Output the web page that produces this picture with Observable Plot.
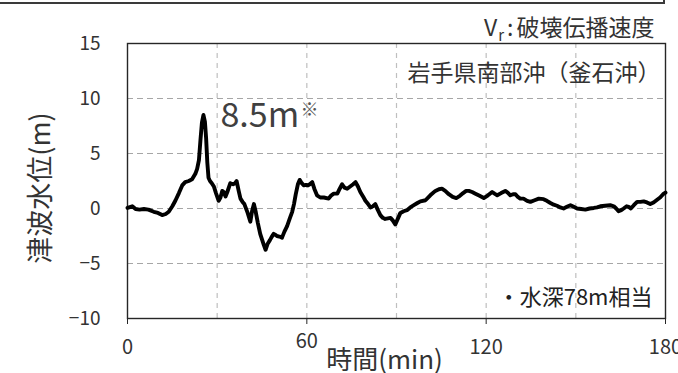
<!DOCTYPE html>
<html>
<head>
<meta charset="utf-8">
<script src="https://cdn.jsdelivr.net/npm/d3@7"></script>
<script src="https://cdn.jsdelivr.net/npm/@observablehq/plot@0.6"></script>
<style>
  html, body { margin: 0; padding: 0; background: white; }
  #wrap { position: relative; width: 678px; height: 373px; overflow: hidden; }
  #topbox { position: absolute; left: -4px; top: -10px; width: 667px; height: 12px;
            border-bottom: 2px solid #3a3a3a; border-right: 2px solid #3a3a3a; }
</style>
</head>
<body>
<div id="wrap"><div id="topbox"></div></div>
<script>
// time (min)
const times = [0,1.6,2.7,4,5.5,7,8.8,10.2,11.6,12.8,13.8,15,16,17.2,18.3,19.3,20.5,21.6,22.7,23.3,23.9,24.4,24.9,25.4,25.9,26.3,26.7,27.1,27.6,28.2,28.9,29.6,30.5,31.1,31.7,32.2,32.8,33.4,34.4,35.3,36.0,36.5,37.2,37.8,38.5,39.1,40.2,41.1,41.7,42.3,42.9,43.6,44.4,45.0,45.6,46.2,46.9,47.6,48.2,48.9,49.5,50.0,50.8,51.7,52.5,53.4,54.3,55.1,55.7,56.3,57.0,57.6,58.3,59.0,59.7,60.3,61.0,61.8,62.5,63.4,64.5,65.7,67.3,68.2,69.0,70.2,71.0,71.8,72.6,73.5,74.5,75.5,76.3,77.1,77.9,78.8,79.6,80.5,81.3,82.1,82.9,83.7,84.6,85.4,86.2,87.1,88.0,88.8,89.6,90.5,91.3,92.4,93.5,94.6,95.8,97.0,98.0,99.7,101.3,103.0,104.2,105.2,106.3,107.5,108.8,110.0,111.2,112.3,113.3,114.2,115.3,116.4,117.8,119.2,120.6,122.0,122.8,123.7,125.0,126.4,127.2,128.1,129.0,129.8,130.6,131.4,132.5,133.7,134.8,136.2,137.6,139.2,140.3,141.5,142.6,143.7,144.8,145.9,147.0,148.2,149.3,150.4,151.8,153.2,154.6,156.0,157.1,158.2,159.8,161.5,162.7,163.5,164.3,165.2,166.0,167.0,167.7,168.4,169.4,170.5,171.6,172.7,173.8,174.9,176.0,177.2,178.2,179.2,180];
// tsunami water level (m)
const levels = [0.05,0.2,-0.05,-0.1,-0.05,-0.1,-0.3,-0.4,-0.6,-0.5,-0.3,0.2,0.7,1.4,2.1,2.4,2.5,2.65,3.15,3.6,4.4,6.2,7.8,8.5,7.9,6.4,4.2,2.8,2.5,2.3,2.0,1.4,0.7,1.0,1.6,1.5,1.1,1.5,2.3,2.2,2.3,2.5,1.6,0.9,0.6,0.4,-0.4,-1.2,-0.2,0.4,-0.3,-1.3,-2.3,-2.8,-3.3,-3.75,-3.2,-2.9,-2.6,-2.3,-2.4,-2.5,-2.55,-2.65,-2.1,-1.6,-0.9,-0.3,0.4,1.3,2.2,2.6,2.3,2.1,2.15,2.1,2.2,2.4,1.8,1.2,1.0,1.0,0.9,1.2,1.35,1.35,1.8,2.2,1.9,1.8,2.0,2.2,2.4,2.0,1.5,1.1,0.7,0.4,0.1,0.2,0.4,-0.1,-0.6,-0.85,-0.95,-0.9,-0.85,-1.1,-1.45,-0.9,-0.4,-0.25,-0.15,0.1,0.3,0.5,0.65,0.75,1.2,1.6,1.75,1.8,1.6,1.3,1.05,0.95,1.15,1.4,1.6,1.6,1.5,1.35,1.15,0.95,1.2,1.5,1.35,1.2,1.4,1.6,1.45,1.2,1.3,1.3,1.05,0.9,0.9,0.7,0.6,0.75,0.9,0.85,0.7,0.5,0.35,0.25,0.1,0.0,0.15,0.3,0.15,0.0,-0.05,-0.1,0.0,0.05,0.1,0.2,0.25,0.3,0.2,0.0,-0.25,-0.15,0.0,0.2,0.15,0.0,0.3,0.6,0.6,0.65,0.55,0.4,0.55,0.8,1.0,1.3,1.45];
const xTicksMain = [0, 120, 180];
const xTicksRaised = [60];
const yTicks = [-10, -5, 0, 5, 10, 15];
const xGrid = [30, 60, 90, 120, 150];
const yGrid = [-5, 0, 5, 10];
const peakLabel = "8.5m";
const titleText = "岩手県南部沖（釜石沖）";
const noteText = "・水深78m相当";
const headerText = "Vr:破壊伝播速度";

const data = times.map((t, i) => ({t, v: levels[i]}));
const FONT = "'Noto Sans CJK JP', 'Noto Sans', sans-serif";

const chart = Plot.plot({
  width: 678,
  height: 373,
  marginLeft: 127,
  marginRight: 13,
  marginTop: 43,
  marginBottom: 55,
  style: {fontFamily: FONT, fontSize: "19px", color: "#333", background: "transparent"},
  x: {domain: [0, 180]},
  y: {domain: [-10, 15]},
  marks: [
    Plot.ruleY(yGrid, {stroke: "#a6a6a6", strokeWidth: 1.2, strokeDasharray: "6,4"}),
    Plot.ruleX(xGrid, {stroke: "#bfbfbf", strokeWidth: 1.2, strokeDasharray: "5,5"}),
    Plot.frame({stroke: "#262626", strokeWidth: 1.4}),
    Plot.line(data, {x: "t", y: "v", stroke: "black", strokeWidth: 3.9, strokeLinejoin: "round", strokeLinecap: "round"}),
    Plot.axisY(yTicks, {tickSize: 0, tickPadding: 27, fontSize: 19, label: null, fill: "#333"}),
    Plot.axisX(xTicksMain, {tickSize: 6, tickPadding: 15, fontSize: 20, label: null, fill: "#333", stroke: "#262626"}),
    Plot.axisX(xTicksRaised, {tickSize: 6, tickPadding: 9, fontSize: 20, label: null, fill: "#333", stroke: "#262626"}),
    Plot.text([titleText], {frameAnchor: "top-right", dx: -5, dy: 30, lineAnchor: "middle", fontSize: 23, fill: "#333"}),
    Plot.text([noteText], {frameAnchor: "bottom-right", dx: -13, dy: -21, lineAnchor: "middle", fontSize: 22, fill: "#222"}),
    Plot.text([headerText], {frameAnchor: "top-right", dx: -11, dy: -15, lineAnchor: "middle", fontSize: 23, fill: "#333"}),
    Plot.text([peakLabel], {frameAnchor: "top-left", dx: 93, dy: 73, lineAnchor: "middle", textAnchor: "start", fontSize: 34, fill: "#404040"}),
    Plot.text(["※"], {frameAnchor: "top-left", dx: 173, dy: 67, lineAnchor: "middle", textAnchor: "start", fontSize: 18, fill: "#555"}),
    Plot.text(["時間(min)"], {frameAnchor: "bottom", dx: -12, dy: 42, lineAnchor: "middle", fontSize: 26, fill: "#333"}),
    Plot.text(["津波水位(m)"], {frameAnchor: "left", dx: -86, dy: 7, rotate: -90, textAnchor: "middle", lineAnchor: "middle", fontSize: 27, fill: "#333"})
  ]
});

// subscript r in header
d3.select(chart).selectAll("text").filter(function() { return this.textContent === headerText; })
  .each(function() {
    const t = d3.select(this);
    t.text(null);
    t.append("tspan").text("V");
    t.append("tspan").attr("font-size", "15px").attr("dy", "5").attr("dx", "1").text("r");
    t.append("tspan").attr("dy", "-5").attr("dx", "3").text(":");
    t.append("tspan").attr("dx", "3").text("破壊伝播速度");
  });

document.getElementById("wrap").appendChild(chart);
chart.style.position = "absolute";
chart.style.left = "0";
chart.style.top = "0";
</script>
</body>
</html>
